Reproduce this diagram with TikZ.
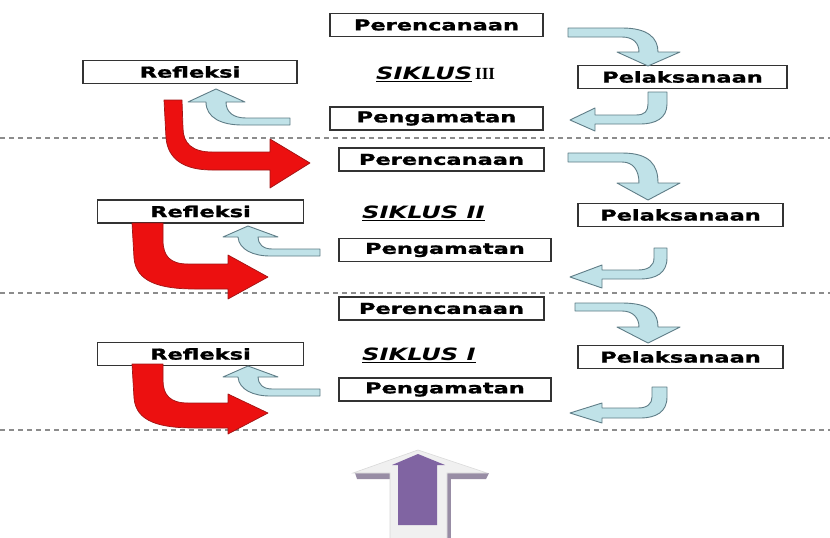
\documentclass[tikz,border=0pt]{standalone}
\usepackage{fontspec}
\usepackage{graphicx}
\newfontfamily\lblfont{DejaVu Sans}[BoldFeatures={FakeBold=1.2}]
\newfontfamily\romfont{Liberation Serif}
\newcommand\wide[1]{\scalebox{1.5}[1]{#1}}
\newcommand\widesik[1]{\scalebox{1.42}[1]{#1}}
\definecolor{arrblue}{RGB}{192,226,232}
\definecolor{arrline}{RGB}{95,125,135}
\definecolor{arrred}{RGB}{236,16,16}
\definecolor{arrredline}{RGB}{160,20,20}
\definecolor{purp}{RGB}{128,100,162}
\definecolor{dashgray}{RGB}{140,140,140}
\tikzset{
  stagebox/.style={draw=black!80, line width=1.1pt, fill=white, minimum height=23pt, inner sep=0pt,
    font=\lblfont\bfseries\fontsize{15}{15}\selectfont},
  cyclelbl/.style={inner sep=0pt, font=\lblfont\bfseries\itshape\fontsize{17}{17}\selectfont},
  bluearr/.style={fill=arrblue, draw=arrline, line width=0.9pt, line join=round},
  redarr/.style={fill=arrred, draw=arrredline, line width=0.7pt, line join=round},
  sepline/.style={draw=dashgray, line width=1.3pt, dash pattern=on 5pt off 4pt}
}
\begin{document}
\begin{tikzpicture}[x=1pt,y=-1pt]
\useasboundingbox (0,0) rectangle (830,538);
\fill[white] (0,0) rectangle (830,538);
% separators
\coordinate (d1l) at (0,138); \coordinate (d1r) at (830,138);
\coordinate (d2l) at (0,293); \coordinate (d2r) at (830,293);
\coordinate (d3l) at (0,430); \coordinate (d3r) at (830,430);
\draw[sepline] (d1l) -- (d1r);
\draw[sepline] (d2l) -- (d2r);
\draw[sepline] (d3l) -- (d3r);
% cycle III
\node[stagebox, minimum width=213pt] (p3) at (436.5,25) {\wide{Perencanaan}};
\node[stagebox, minimum width=209pt] (l3) at (682.5,77) {\wide{Pelaksanaan}};
\node[stagebox, minimum width=214pt] (r3) at (190,72) {\wide{Refleksi}};
\node[stagebox, minimum width=213pt] (g3) at (436.5,118.5) {\wide{Pengamatan}};
\node[cyclelbl, anchor=west] (s3) at (376,74) {\widesik{\underline{SIKLUS}}\,{\romfont\bfseries\upshape III}};
% cycle II
\node[stagebox, minimum width=205pt] (p2) at (441.5,159.5) {\wide{Perencanaan}};
\node[stagebox, minimum width=205pt] (l2) at (680.5,215) {\wide{Pelaksanaan}};
\node[stagebox, minimum width=206pt] (r2) at (200.5,211.5) {\wide{Refleksi}};
\node[stagebox, minimum width=212pt] (g2) at (445,250) {\wide{Pengamatan}};
\node[cyclelbl, anchor=west] (s2) at (362,213) {\widesik{\underline{SIKLUS II}}};
% cycle I
\node[stagebox, minimum width=205pt] (p1) at (441.5,308.5) {\wide{Perencanaan}};
\node[stagebox, minimum width=205pt] (l1) at (680.5,357) {\wide{Pelaksanaan}};
\node[stagebox, minimum width=206pt] (r1) at (200.5,354) {\wide{Refleksi}};
\node[stagebox, minimum width=212pt] (g1) at (445,389.5) {\wide{Pengamatan}};
\node[cyclelbl, anchor=west] (s1) at (362,355) {\widesik{\underline{SIKLUS I}}};
% blue arrows: Perencanaan -> Pelaksanaan
\draw[bluearr] (568,28) -- (622,28) .. controls (648,28) and (658,38) .. (658,52) -- (680,52) -- (648,66) -- (617,52) -- (639,52) .. controls (639,43) and (633,37) .. (622,37) -- (568,37) -- cycle;
\draw[bluearr] (568,153) -- (622,153) .. controls (650,153) and (658,165) .. (658,183) -- (680,183) -- (648,200) -- (617,183) -- (639,183) .. controls (639,170) and (633,162) .. (622,162) -- (568,162) -- cycle;
\draw[bluearr] (575,303) -- (622,303) .. controls (650,303) and (658,313) .. (658,327) -- (680,327) -- (648,343) -- (617,327) -- (639,327) .. controls (639,318) and (633,311) .. (622,311) -- (575,311) -- cycle;
% blue arrows: Pelaksanaan -> Pengamatan
\draw[bluearr] (648,92) -- (667,92) -- (667,104) .. controls (667,118) and (656,124) .. (640,124) -- (595,124) -- (595,131) -- (570,120) -- (595,108) -- (595,115) -- (636,115) .. controls (645,115) and (648,111) .. (648,104) -- cycle;
\draw[bluearr] (654,248) -- (667,248) -- (667,258) .. controls (667,273) and (656,279) .. (640,279) -- (602,279) -- (602,288) -- (570,277) -- (602,265) -- (602,270) -- (638,270) .. controls (648,270) and (654,266) .. (654,258) -- cycle;
\draw[bluearr] (652,387) -- (667,387) -- (667,397) .. controls (667,412) and (656,418) .. (640,418) -- (602,418) -- (602,423) -- (570,413) -- (602,403) -- (602,408) -- (638,408) .. controls (647,408) and (652,404) .. (652,397) -- cycle;
% blue arrows: Pengamatan -> Refleksi
\draw[bluearr] (290,118) -- (246,118) .. controls (233,118) and (226,112) .. (226,102) -- (245,102) -- (216,89) -- (188,102) -- (206,102) .. controls (206,118) and (222,125) .. (242,125) -- (290,125) -- cycle;
\draw[bluearr] (320,249) -- (272,249) .. controls (263,249) and (258,244) .. (258,237) -- (278,237) -- (248,226) -- (223,237) -- (238,237) .. controls (239,250) and (254,256) .. (270,256) -- (320,256) -- cycle;
\draw[bluearr] (320,389) -- (272,389) .. controls (263,389) and (258,384) .. (258,377) -- (278,377) -- (248,366) -- (223,377) -- (238,377) .. controls (239,390) and (254,396) .. (270,396) -- (320,396) -- cycle;
% red arrows: Refleksi -> next Perencanaan
\draw[redarr] (164,100) -- (166,138) .. controls (168,160) and (185,170) .. (212,170) -- (270,170) -- (270,188) -- (310,163) -- (270,139) -- (270,152) -- (212,152) .. controls (192,152) and (183,143) .. (183,128) -- (182,100) -- cycle;
\draw[redarr] (132,223) -- (134,258) .. controls (136,282) and (160,289) .. (195,289) -- (228,289) -- (228,299) -- (268,277) -- (228,255) -- (228,264) -- (188,264) .. controls (170,264) and (163,256) .. (163,240) -- (163,223) -- cycle;
\draw[redarr] (132,364) -- (134,398) .. controls (136,422) and (160,428) .. (195,428) -- (228,428) -- (228,434) -- (268,413) -- (228,394) -- (228,403) -- (188,403) .. controls (170,403) and (163,395) .. (163,380) -- (163,364) -- cycle;
% purple up arrow
\fill[black!35!purp!60] (355,473) -- (489,473) -- (486,479) -- (357,479) -- cycle;
\fill[black!35!purp!60] (447,473) -- (451,473) -- (451,538) -- (447,538) -- cycle;
\draw[fill=black!6, draw=black!15, line width=0.6pt] (390,538) -- (390,473) -- (353,473) -- (418,450) -- (487,473) -- (447,473) -- (447,538);
\fill[purp] (398,525) -- (398,465) -- (392,465) -- (418,454) -- (445,465) -- (437,465) -- (437,525) -- cycle;
\end{tikzpicture}
\end{document}
